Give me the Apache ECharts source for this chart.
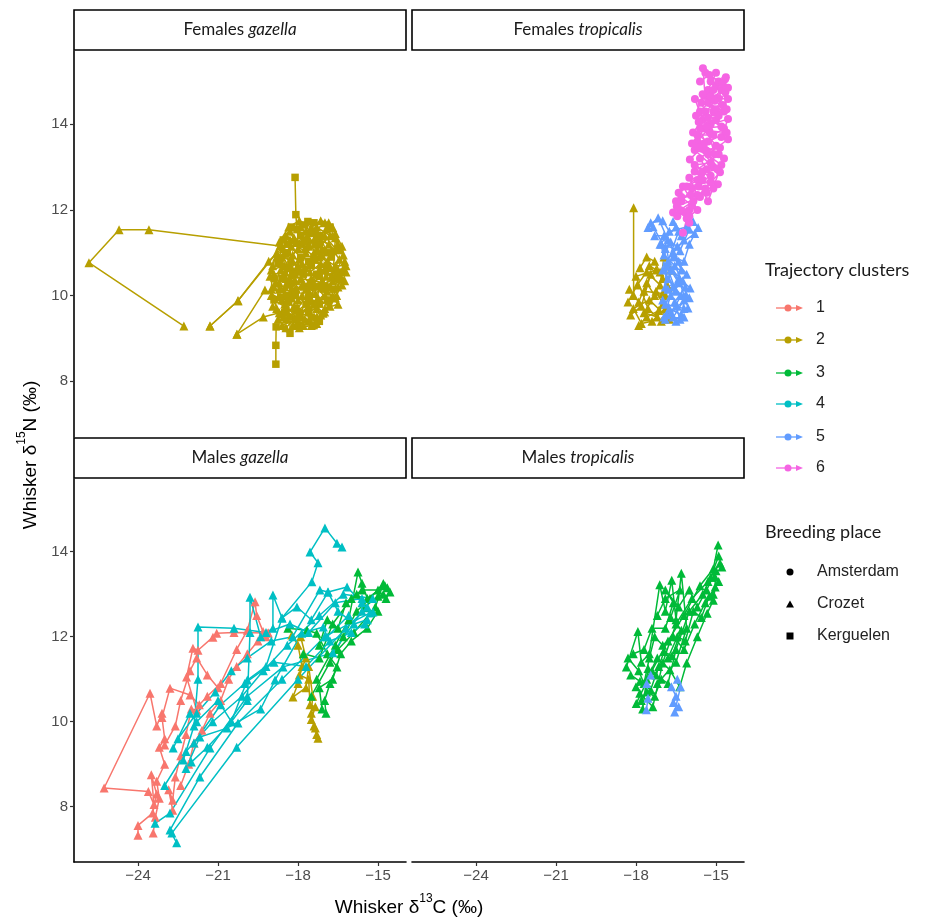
<!DOCTYPE html>
<html><head><meta charset="utf-8">
<script src="https://cdn.jsdelivr.net/npm/echarts@6/dist/echarts.min.js"></script>
<style>html,body{margin:0;padding:0;background:#fff}#c{width:936px;height:918px}</style>
</head><body><div id="c"></div>
<script>
// ---- categories / ticks ----
const panelSex = ['Females', 'Females', 'Males', 'Males'];
const panelSpecies = ['gazella', 'tropicalis', 'gazella', 'tropicalis'];
const clusterNames = ['1', '2', '3', '4', '5', '6'];
const placeNames = ['Amsterdam', 'Crozet', 'Kerguelen'];
const xTicks = [-24, -21, -18, -15];
const yTicks = [8, 10, 12, 14];

// ---- Females gazella (cluster 2) ----
const fgK1 = [[-18.11,12.76],[-18.08,11.89],[-18.04,11.54],[-17.63,11.73],[-17.9,11.2],[-17.4,10.9],[-17.8,10.5],[-18.2,10.1],[-17.7,9.8],[-18.3,9.5],[-18.3,9.12],[-18.82,9.27],[-18.83,8.84],[-18.83,8.40]];
const fgK2 = [[-17.2,11.4],[-16.9,11.0],[-17.5,10.7],[-16.6,10.4],[-17.3,10.2],[-16.9,9.9],[-17.6,9.6],[-17.2,9.4],[-18.0,9.3],[-18.5,9.6],[-18.1,10.0],[-18.6,10.4],[-17.9,10.9],[-18.4,11.2]];
const fgK3 = [[-18.9,10.4],[-18.4,10.0],[-17.8,10.2],[-17.3,10.5],[-16.9,10.7],[-17.6,10.8],[-17.2,11.2],[-17.9,11.4],[-18.4,11.0],[-18.1,9.7],[-17.4,9.3],[-18.9,9.9]];
const fgK4 = [[-18.6,9.55],[-18.35,9.85],[-17.95,9.6],[-17.5,9.5],[-17.45,10.2],[-17.05,10.15],[-17.2,10.45],[-16.75,10.9],[-17.05,11.05],[-17.5,11.45],[-17.75,11.65],[-18.25,11.6],[-18.55,11.3],[-18.75,10.75],[-18.35,10.65]];
const fgK5 = [[-16.45,11.05],[-16.8,11.6],[-17.4,11.7],[-17.65,11.25],[-17.95,10.55],[-18.3,10.25],[-18.65,9.95],[-18.45,9.65],[-18.05,9.45],[-17.6,9.95],[-17.2,9.8],[-16.85,9.85],[-16.65,10.15],[-16.4,10.55]];
const fgC1 = [[-17.6,10.3],[-18.2,10.8],[-18.68,11.16],[-23.59,11.54],[-24.71,11.54],[-25.84,10.77],[-22.28,9.29]];
const fgC2 = [[-21.3,9.29],[-20.25,9.88],[-19.1,10.8],[-18.3,11.3],[-17.7,11.0],[-17.0,11.4],[-16.6,11.1],[-17.2,10.6],[-16.3,10.6],[-16.8,10.2],[-17.5,10.4]];
const fgC3 = [[-20.29,9.10],[-19.24,10.13],[-18.6,9.9],[-18.9,10.5],[-18.2,10.6],[-18.5,11.0],[-17.8,11.3],[-16.99,11.70],[-16.7,11.59],[-16.5,11.2],[-16.9,10.8],[-16.4,10.4],[-16.7,9.95],[-17.06,9.59],[-17.5,9.9],[-17.9,9.5],[-18.6,9.3]];
const fgC4 = [[-21.3,9.29],[-20.25,9.88],[-18.8,11.0],[-18.0,10.7],[-18.4,10.3],[-17.6,10.1],[-18.0,9.7],[-17.3,9.5],[-17.8,9.3],[-18.5,9.8],[-18.9,10.2]];
const fgC5 = [[-20.29,9.10],[-19.3,9.5],[-18.7,9.6],[-19.0,10.0],[-18.4,9.9],[-18.7,10.3],[-19.0,10.6],[-18.5,10.7],[-18.0,11.1],[-18.3,11.5],[-17.9,11.6],[-17.4,11.2],[-17.2,10.9],[-16.6,10.7],[-16.2,10.7],[-16.5,10.2],[-17.0,10.0],[-17.3,9.7]];
const fgC6 = [[-17.7,11.5],[-17.3,11.6],[-16.8,11.4],[-17.4,11.0],[-17.9,10.4],[-17.1,10.3],[-17.4,9.8],[-16.9,10.1],[-16.5,9.8],[-17.0,9.7],[-17.6,9.4],[-18.2,9.3],[-18.0,9.9],[-18.5,10.2],[-18.1,10.5],[-18.6,10.9]];
const fgC7 = [[-18.8,10.9],[-18.3,10.4],[-17.95,10.85],[-17.55,10.55],[-17.15,10.75],[-16.75,10.45],[-16.45,10.85],[-16.85,11.2],[-17.35,11.35],[-17.75,11.1],[-18.15,11.35],[-18.55,11.1]];
const fgC8 = [[-18.95,9.75],[-18.55,9.5],[-18.15,9.75],[-17.75,9.45],[-17.3,9.35],[-17.0,9.62],[-16.6,9.95],[-16.9,10.25],[-17.35,10.05],[-17.8,10.3],[-18.25,9.95],[-18.7,10.15]];
const fgC9 = [[-16.3,10.95],[-16.55,10.55],[-16.35,10.25],[-16.7,10.35],[-16.6,11.35],[-16.95,11.55],[-17.25,11.05],[-17.65,11.4],[-18.05,11.25],[-18.45,11.4],[-18.65,10.6],[-18.85,10.3],[-19.05,10.45]];
const fgC10 = [[-18.75,9.45],[-18.45,9.25],[-18.0,9.55],[-17.6,9.75],[-17.25,9.95],[-17.7,10.15],[-18.1,10.35],[-18.5,10.55],[-18.2,10.95],[-17.75,10.65],[-17.35,10.85],[-16.95,10.45],[-16.55,10.6],[-16.25,10.35]];
const fgC11 = [[-16.6,11.45],[-16.35,11.15],[-16.25,10.8],[-16.45,10.45],[-16.2,10.55],[-16.55,10.0],[-16.8,9.75],[-17.15,9.55],[-17.5,9.3],[-17.95,9.25],[-18.45,9.45],[-18.8,9.7],[-19.0,10.15],[-18.95,10.7],[-18.7,11.25],[-18.35,11.6],[-17.95,11.75],[-17.5,11.6],[-17.15,11.75],[-16.85,11.7]];
const fgC12 = [[-17.85,10.0],[-17.45,10.35],[-17.0,10.6],[-16.7,11.05],[-17.3,11.5],[-17.85,10.75],[-18.25,10.5],[-18.6,10.75],[-18.25,11.15],[-17.6,11.15],[-17.1,10.95],[-16.8,10.65],[-17.05,10.3],[-17.55,10.25],[-18.05,10.15],[-18.45,10.4]];

// ---- Females tropicalis ----
const ftG1 = [[-18.09,12.05],[-18.09,10.0],[-18.25,10.15],[-17.9,9.85],[-17.6,10.3],[-17.3,10.0],[-17.7,9.6],[-17.2,9.5],[-17.0,9.8],[-16.8,10.2],[-17.1,10.55],[-17.5,10.7]];
const ftG2 = [[-17.85,10.65],[-17.6,10.9],[-17.3,10.8],[-17.0,10.4],[-17.25,10.1],[-16.9,9.7],[-17.4,9.4],[-17.8,9.35],[-18.1,9.7],[-17.5,9.9],[-16.75,9.45]];
const ftG3 = [[-18.3,9.85],[-17.95,10.25],[-17.6,10.55],[-17.1,10.25],[-16.95,10.9],[-16.7,10.6],[-16.9,10.0],[-17.15,9.65],[-17.6,9.5],[-17.9,9.3]];
const ftG4 = [[-18.2,9.55],[-17.8,9.75],[-17.45,10.5],[-17.7,10.1],[-17.0,10.05],[-16.8,9.6],[-17.05,9.4],[-17.55,9.7],[-18.0,10.45],[-17.25,10.6]];
const ftB1 = [[-17.55,11.59],[-17.17,11.82],[-16.8,11.3],[-16.4,10.8],[-16.8,10.4],[-16.3,10.0],[-16.7,9.6],[-16.5,9.4]];
const ftB2 = [[-17.36,11.61],[-16.9,11.1],[-17.0,10.6],[-16.6,10.2],[-16.9,9.8],[-16.2,9.7],[-16.05,9.71],[-16.4,10.4],[-15.97,10.18]];
const ftB3 = [[-16.61,11.73],[-16.3,11.4],[-15.86,11.73],[-15.67,11.59],[-16.0,11.2],[-16.2,10.8],[-16.6,10.9],[-16.1,10.5],[-16.7,10.0],[-16.95,9.5]];
const ftB4 = [[-17.1,11.2],[-16.5,11.6],[-16.2,11.3],[-16.6,11.0],[-16.3,10.6],[-16.85,10.7],[-16.5,10.1],[-16.2,9.9],[-16.6,9.5],[-17.0,9.9],[-16.8,10.8],[-16.4,11.5]];
const ftB5 = [[-17.3,11.4],[-16.95,11.4],[-16.7,10.6],[-16.4,10.3],[-16.9,10.2],[-16.75,9.7],[-16.3,9.55],[-16.15,10.0]];
const ftB6 = [[-17.45,11.7],[-17.0,11.75],[-16.75,11.5],[-16.1,11.6],[-15.8,11.45],[-16.45,11.15],[-16.7,11.25],[-16.95,10.95],[-16.55,10.7],[-16.15,10.2],[-16.55,9.85],[-16.35,9.45],[-16.85,9.55]];
const ftB7 = [[-16.0,11.55],[-16.35,11.05],[-17.05,11.2],[-16.8,10.15],[-16.25,10.35],[-16.65,10.6],[-16.0,9.95],[-16.45,9.75],[-16.9,9.45],[-16.2,9.5]];
const ftP1 = [[-15.49,15.31],[-15.41,14.66],[-15.1,14.3],[-15.5,13.9],[-15.0,13.5],[-15.6,13.2],[-15.2,12.8],[-15.9,12.5],[-16.3,12.2],[-16.61,11.94]];
const ftP2 = [[-14.66,15.05],[-14.9,14.6],[-14.55,14.59],[-15.2,14.0],[-14.55,14.12],[-14.8,13.7],[-14.55,13.65],[-15.3,13.3],[-14.85,12.88],[-15.4,12.5],[-16.0,12.0],[-16.24,11.47]];
const ftP3 = [[-14.63,15.1],[-15.0,14.9],[-15.3,14.5],[-14.7,14.3],[-15.79,14.59],[-15.5,14.1],[-15.86,13.81],[-15.3,13.6],[-15.98,13.18],[-15.5,12.9],[-14.93,12.6],[-15.6,12.3],[-16.47,12.08],[-16.0,11.7]];
const ftP4 = [[-15.2,15.0],[-14.8,14.8],[-15.6,14.3],[-15.0,14.1],[-15.7,13.6],[-14.9,13.3],[-15.8,12.9],[-15.1,12.5],[-16.24,12.55],[-15.7,12.0],[-16.1,11.8]];
const ftP5 = [[-15.0,15.2],[-15.3,14.8],[-14.75,14.45],[-15.4,14.3],[-14.8,13.95],[-15.6,13.9],[-15.1,13.0],[-15.8,13.4],[-14.7,13.2],[-15.3,12.2],[-15.7,12.7],[-16.4,12.4]];
const ftP6 = [[-15.4,15.2],[-14.9,15.0],[-15.2,14.65],[-14.65,14.75],[-15.0,14.35],[-15.55,14.5],[-15.3,14.15],[-14.7,13.9],[-15.1,13.75],[-15.7,13.75],[-15.4,13.4],[-14.85,13.45],[-15.2,13.1],[-15.8,13.05],[-15.5,12.7],[-16.0,12.75],[-15.7,12.35],[-16.3,12.3],[-15.9,12.1],[-16.45,11.85]];
const ftP7 = [[-15.6,15.0],[-15.25,15.15],[-14.75,14.95],[-14.6,14.35],[-15.05,14.55],[-15.65,14.05],[-15.25,13.85],[-14.6,13.8],[-15.45,13.55],[-15.9,13.55],[-14.8,13.05],[-15.35,12.95],[-15.65,12.55],[-15.35,12.4],[-15.95,12.35],[-16.5,12.2],[-16.2,11.95]];
const ftP8 = [[-14.55,14.85],[-15.1,14.8],[-15.5,14.7],[-15.75,14.2],[-14.9,14.2],[-15.35,13.95],[-15.05,13.3],[-15.65,13.45],[-14.95,12.95],[-15.55,12.85],[-16.1,12.55],[-15.2,12.65],[-15.85,12.2],[-16.35,12.0],[-16.0,11.85]];

// ---- Males gazella ----
const mgR1 = [[-23.1,10.2],[-23.3,9.9],[-23.55,10.67],[-25.27,8.44],[-23.61,8.36],[-23.4,8.05],[-23.5,8.75],[-23.3,8.3],[-23.45,7.85],[-24.0,7.56],[-24.0,7.33]];
const mgR2 = [[-23.43,7.38],[-23.35,7.75],[-23.2,8.2],[-23.3,8.6],[-23.0,9.0],[-23.2,9.4],[-23.0,9.6],[-23.1,10.1],[-22.8,10.79],[-22.05,10.63],[-21.7,10.4],[-21.4,10.6],[-20.9,10.9],[-20.3,11.7],[-19.9,12.15],[-19.61,12.82],[-19.55,12.5],[-19.31,12.12],[-19.12,12.09]];
const mgR3 = [[-22.7,7.92],[-22.85,8.4],[-22.7,8.15],[-22.6,8.7],[-22.4,9.2],[-22.2,9.7],[-22.0,10.3],[-21.8,10.27],[-22.18,11.05],[-21.94,11.73],[-21.75,11.68],[-21.19,11.99],[-21.05,12.08],[-20.4,12.1],[-19.12,12.09]];
const mgR4 = [[-22.4,8.5],[-22.1,9.0],[-21.9,9.5],[-21.6,9.8],[-21.3,10.2],[-20.9,10.5],[-20.6,11.0],[-20.3,11.3],[-19.9,11.6],[-19.5,11.9],[-19.2,12.0]];
const mgR5 = [[-23.0,9.45],[-22.6,9.9],[-22.4,10.5],[-22.05,11.2],[-21.8,11.5],[-21.4,11.1],[-21.0,10.8]];
const mgO1 = [[-18.23,12.04],[-18.0,11.8],[-17.85,11.3],[-18.0,10.9],[-18.19,10.58],[-17.7,10.8],[-17.6,11.3],[-17.45,10.6],[-17.5,10.2],[-17.4,9.9],[-17.3,9.7],[-17.25,9.61]];
const mgO2 = [[-17.9,12.0],[-17.7,11.5],[-17.95,11.1],[-17.6,11.0],[-17.55,10.4],[-17.35,10.35],[-17.5,10.05],[-17.35,9.85]];
const mgG1 = [[-18.38,12.2],[-17.66,12.15],[-17.3,12.08],[-16.9,11.6],[-16.54,11.29],[-16.8,10.9],[-17.0,10.5],[-16.95,10.2]];
const mgG2 = [[-17.3,11.0],[-16.6,11.8],[-16.1,12.4],[-15.75,13.52],[-15.6,13.26],[-15.4,12.9],[-14.74,13.2],[-14.55,13.05],[-14.7,12.9]];
const mgG3 = [[-17.5,10.6],[-16.8,11.4],[-16.3,12.0],[-15.8,12.6],[-15.3,12.9],[-14.8,13.25],[-15.1,12.7],[-15.9,12.1],[-16.5,11.7]];
const mgG4 = [[-17.8,11.6],[-17.2,11.5],[-16.7,12.3],[-16.0,12.9],[-15.6,13.1],[-15.0,13.1],[-14.65,13.15]];
const mgG5 = [[-17.2,11.8],[-16.9,12.4],[-16.5,12.2],[-16.2,12.8],[-15.8,13.0],[-15.5,12.7],[-15.0,12.95],[-14.8,13.0]];
const mgG6 = [[-17.1,10.3],[-17.2,10.8],[-16.7,11.0],[-16.4,11.6],[-16.0,11.9],[-15.4,12.2],[-15.0,12.6]];
const mgC1 = [[-22.55,7.15],[-22.8,7.45],[-21.68,8.70],[-20.25,9.97],[-18.6,11.0],[-17.0,12.0],[-15.3,12.56]];
const mgC2 = [[-23.36,7.61],[-22.8,7.85],[-21.3,9.38],[-19.9,10.6],[-18.56,11.29],[-16.69,11.62],[-15.6,12.6],[-15.19,12.58]];
const mgC3 = [[-22.73,7.38],[-20.3,9.4],[-18.0,11.0],[-16.2,12.2],[-15.4,12.7]];
const mgC4 = [[-22.2,8.9],[-21.68,9.64],[-20.66,9.85],[-19.4,10.3],[-18.86,10.98],[-17.86,12.08],[-17.05,12.23],[-16.91,12.0],[-16.1,12.5]];
const mgC5 = [[-22.68,9.38],[-22.05,10.2],[-21.8,10.0],[-21.0,10.5],[-20.5,10.0],[-19.9,10.98],[-19.2,11.3],[-18.6,12.44],[-17.48,13.29],[-17.25,13.74],[-17.55,13.99],[-16.99,14.56],[-16.54,14.2],[-16.35,14.11]];
const mgC6 = [[-22.3,9.1],[-21.9,9.9],[-21.75,11.0],[-21.75,12.23],[-20.4,12.2],[-19.2,12.1],[-18.3,12.3],[-17.6,12.1],[-16.6,12.8],[-15.6,12.9]];
const mgC7 = [[-22.0,9.05],[-21.4,9.4],[-20.5,10.0],[-19.9,10.5],[-19.8,12.1],[-19.8,12.93],[-19.4,12.0],[-18.94,12.2],[-18.94,12.98],[-18.6,12.44],[-18.04,12.7],[-17.5,12.4],[-16.87,13.05],[-16.16,13.17],[-15.6,12.8]];
const mgC8 = [[-22.5,9.6],[-21.8,10.2],[-21.1,10.7],[-20.5,11.2],[-19.9,11.5],[-19.0,11.9],[-18.2,12.0],[-17.18,13.1],[-16.88,13.05],[-16.5,12.6],[-15.9,12.3],[-15.4,12.4]];
const mgC9 = [[-21.9,9.5],[-20.9,10.4],[-20.0,10.9],[-18.9,11.4],[-17.7,11.3],[-16.8,11.9],[-16.0,12.1],[-15.5,12.3]];
const mgC10 = [[-23.0,8.5],[-22.2,9.3],[-21.2,10.0],[-20.1,10.6],[-19.3,11.2],[-18.4,11.8],[-17.2,12.5],[-16.3,13.0],[-15.2,12.9]];

// ---- Males tropicalis ----
const mtG1 = [[-17.99,10.43],[-17.4,11.2],[-16.8,11.9],[-16.2,12.5],[-15.6,13.2],[-15.1,13.6],[-14.92,14.16]];
const mtG2 = [[-17.86,10.67],[-17.37,10.35],[-17.0,11.38],[-16.5,12.3],[-15.9,12.9],[-15.3,13.3],[-14.85,13.73],[-14.78,13.64]];
const mtG3 = [[-18.36,11.29],[-17.93,12.12],[-17.8,11.4],[-17.5,11.6],[-17.11,13.22],[-16.9,12.6],[-16.66,13.33],[-16.5,12.4],[-16.3,13.49],[-16.1,12.2],[-16.5,11.4],[-17.2,10.9]];
const mtG4 = [[-18.0,10.82],[-17.6,11.0],[-17.2,11.5],[-16.73,11.22],[-16.36,10.82],[-16.1,11.38],[-15.7,12.0],[-15.33,12.55],[-15.1,12.86],[-15.03,13.17],[-15.03,13.4]];
const mtG5 = [[-18.3,11.5],[-17.9,11.2],[-17.7,10.9],[-17.5,11.5],[-17.3,12.0],[-17.0,11.8],[-16.6,12.0],[-16.2,11.7],[-15.8,12.3],[-15.4,12.8],[-15.1,13.0]];
const mtG6 = [[-17.8,10.5],[-17.6,10.7],[-17.3,10.6],[-17.05,11.0],[-16.8,10.9],[-16.5,11.7],[-16.0,12.6],[-15.5,13.0],[-15.2,13.4],[-14.9,13.9]];
const mtG7 = [[-18.1,11.6],[-17.7,11.7],[-17.4,12.2],[-16.9,12.2],[-16.6,12.8],[-16.9,13.1],[-16.4,12.7],[-16.0,13.1],[-15.7,12.7],[-15.35,13.1],[-15.0,13.55]];
const mtG8 = [[-18.2,11.1],[-17.85,10.95],[-17.45,10.75],[-17.15,11.3],[-16.8,11.5],[-16.45,12.0],[-16.15,11.9],[-15.85,12.6],[-15.55,12.45],[-15.25,12.95],[-14.9,13.3]];
const mtG9 = [[-17.75,10.3],[-17.55,11.25],[-17.25,11.1],[-16.95,11.65],[-16.65,11.55],[-16.3,12.15],[-16.7,12.45],[-16.35,13.1],[-16.9,12.9],[-17.2,12.5]];
const mtB1 = [[-17.61,10.28],[-17.55,10.55],[-17.6,10.9],[-17.45,11.1]];
const mtB2 = [[-16.67,10.82],[-16.5,10.6],[-16.6,10.45],[-16.4,10.35],[-16.55,10.23],[-16.33,10.82],[-16.45,11.0]];

// panel index, cluster, breeding place, values
const tracks = [
  [0,2,'Kerguelen',fgK1],[0,2,'Kerguelen',fgK2],[0,2,'Kerguelen',fgK3],[0,2,'Kerguelen',fgK4],[0,2,'Kerguelen',fgK5],
  [0,2,'Crozet',fgC1],[0,2,'Crozet',fgC2],[0,2,'Crozet',fgC3],[0,2,'Crozet',fgC4],[0,2,'Crozet',fgC5],[0,2,'Crozet',fgC6],
  [0,2,'Crozet',fgC7],[0,2,'Crozet',fgC8],[0,2,'Crozet',fgC9],[0,2,'Crozet',fgC10],[0,2,'Crozet',fgC11],[0,2,'Crozet',fgC12],
  [1,2,'Crozet',ftG1],[1,2,'Crozet',ftG2],[1,2,'Crozet',ftG3],[1,2,'Crozet',ftG4],
  [1,5,'Crozet',ftB1],[1,5,'Crozet',ftB2],[1,5,'Crozet',ftB3],[1,5,'Crozet',ftB4],[1,5,'Crozet',ftB5],[1,5,'Crozet',ftB6],[1,5,'Crozet',ftB7],
  [1,6,'Amsterdam',ftP1],[1,6,'Amsterdam',ftP2],[1,6,'Amsterdam',ftP3],[1,6,'Amsterdam',ftP4],
  [1,6,'Amsterdam',ftP5],[1,6,'Amsterdam',ftP6],[1,6,'Amsterdam',ftP7],[1,6,'Amsterdam',ftP8],
  [2,1,'Crozet',mgR1],[2,1,'Crozet',mgR2],[2,1,'Crozet',mgR3],[2,1,'Crozet',mgR4],[2,1,'Crozet',mgR5],
  [2,2,'Crozet',mgO1],[2,2,'Crozet',mgO2],
  [2,3,'Crozet',mgG1],[2,3,'Crozet',mgG2],[2,3,'Crozet',mgG3],[2,3,'Crozet',mgG4],[2,3,'Crozet',mgG5],[2,3,'Crozet',mgG6],
  [2,4,'Crozet',mgC1],[2,4,'Crozet',mgC2],[2,4,'Crozet',mgC3],[2,4,'Crozet',mgC4],[2,4,'Crozet',mgC5],
  [2,4,'Crozet',mgC6],[2,4,'Crozet',mgC7],[2,4,'Crozet',mgC8],[2,4,'Crozet',mgC9],[2,4,'Crozet',mgC10],
  [3,3,'Crozet',mtG1],[3,3,'Crozet',mtG2],[3,3,'Crozet',mtG3],[3,3,'Crozet',mtG4],[3,3,'Crozet',mtG5],
  [3,3,'Crozet',mtG6],[3,3,'Crozet',mtG7],[3,3,'Crozet',mtG8],[3,3,'Crozet',mtG9],
  [3,5,'Crozet',mtB1],[3,5,'Crozet',mtB2]
];

// ---- styles ----
const colors = ['#F8766D','#B79F00','#00BA38','#00BFC4','#619CFF','#F564E3'];
const symbolOf = {Amsterdam:'circle', Crozet:'triangle', Kerguelen:'rect'};
const sizeOf = {Amsterdam:8, Crozet:9, Kerguelen:7.5};
const X_MIN = -26.4, X_MAX = -13.95, Y_MIN = 6.70, Y_MAX = 15.71;
const gridBoxes = [
  {left:74, top:51, width:332, height:386},
  {left:412, top:51, width:332, height:386},
  {left:74, top:479, width:332, height:383},
  {left:412, top:479, width:332, height:383}
];
const fmt = v => (v < 0 ? '\u2212' : '') + Math.abs(v);

const chart = echarts.init(document.getElementById('c'), null, {renderer:'canvas'});

const xAxis = gridBoxes.map((g, i) => {
  const bottom = i >= 2;
  return {
    type:'value', gridIndex:i, min:X_MIN, max:X_MAX,
    splitLine:{show:false},
    axisLine:{show:bottom, onZero:false, lineStyle:{color:'#000', width:1.6}},
    axisTick:{show:bottom, customValues:xTicks, length:4, lineStyle:{color:'#333', width:1.2}},
    axisLabel:{show:bottom, customValues:xTicks, formatter:fmt, color:'#4D4D4D', fontSize:15, fontFamily:'Liberation Sans', margin:6}
  };
});
const yAxis = gridBoxes.map((g, i) => {
  const left = i % 2 === 0;
  return {
    type:'value', gridIndex:i, min:Y_MIN, max:Y_MAX,
    splitLine:{show:false},
    axisLine:{show:left, onZero:false, lineStyle:{color:'#000', width:1.6}},
    axisTick:{show:left, customValues:yTicks, length:4, lineStyle:{color:'#333', width:1.2}},
    axisLabel:{show:left, customValues:yTicks, color:'#4D4D4D', fontSize:15, fontFamily:'Liberation Sans', margin:6}
  };
});

const series = tracks.slice().sort((a, b) => a[1] - b[1]).map(t => ({
  type:'line', name:clusterNames[t[1]-1], xAxisIndex:t[0], yAxisIndex:t[0],
  data:t[3], symbol:symbolOf[t[2]], symbolSize:sizeOf[t[2]], showAllSymbol:true,
  lineStyle:{color:colors[t[1]-1], width:1.5}, itemStyle:{color:colors[t[1]-1]},
  silent:true, animation:false, z:2
}));

// ---- graphics: strips, axis titles, legends ----
const graphic = [];
gridBoxes.forEach((g, i) => {
  const top = i < 2 ? 10 : 438;
  graphic.push({type:'rect', shape:{x:g.left, y:top, width:g.width, height:40},
    style:{fill:'#fff', stroke:'#000', lineWidth:1.6}, z:10});
  graphic.push({type:'text', x:g.left + g.width/2, y:top + 20, z:11,
    style:{text:'{n|' + panelSex[i] + ' }{i|' + panelSpecies[i] + '}',
      align:'center', verticalAlign:'middle', textAlign:'center', textVerticalAlign:'middle',
      rich:{n:{fontFamily:'Lato', fontSize:17, fill:'#1A1A1A', color:'#1A1A1A'},
            i:{fontFamily:'Lato', fontSize:17, fontStyle:'italic', fill:'#1A1A1A', color:'#1A1A1A'}}}});
});
const titleRich = {
  a:{fontFamily:'Liberation Sans', fontSize:19, color:'#000', fill:'#000', lineHeight:24, verticalAlign:'bottom'},
  s:{fontFamily:'Liberation Sans', fontSize:12, color:'#000', fill:'#000', lineHeight:14, verticalAlign:'top'}
};
graphic.push({type:'text', x:409, y:905, z:11,
  style:{text:'{a|Whisker δ}{s|13}{a|C (‰)}', rich:titleRich, align:'center', verticalAlign:'middle', textAlign:'center', textVerticalAlign:'middle'}});
graphic.push({type:'text', x:28, y:455, rotation:Math.PI/2, z:11,
  style:{text:'{a|Whisker δ}{s|15}{a|N (‰)}', rich:titleRich, align:'center', verticalAlign:'middle', textAlign:'center', textVerticalAlign:'middle'}});

// legend: Trajectory clusters
graphic.push({type:'text', x:765, y:270, z:11,
  style:{text:'Trajectory clusters', font:'18px Lato', fill:'#1A1A1A', align:'left', verticalAlign:'middle', textAlign:'left', textVerticalAlign:'middle'}});
const clusterRowY = [308, 340, 373, 404, 437, 468];
clusterNames.forEach((n, k) => {
  const y = clusterRowY[k], c = colors[k];
  graphic.push({type:'line', shape:{x1:776, y1:y, x2:800, y2:y}, style:{stroke:c, lineWidth:1.3}, z:11});
  graphic.push({type:'circle', shape:{cx:788, cy:y, r:3.5}, style:{fill:c}, z:11});
  graphic.push({type:'polygon', shape:{points:[[796,y-3],[803,y],[796,y+3]]}, style:{fill:c}, z:11});
  graphic.push({type:'text', x:816, y:y, z:11,
    style:{text:n, font:'16px "Liberation Sans"', fill:'#222', align:'left', verticalAlign:'middle', textAlign:'left', textVerticalAlign:'middle'}});
});
// legend: Breeding place
graphic.push({type:'text', x:765, y:532, z:11,
  style:{text:'Breeding place', font:'18px Lato', fill:'#1A1A1A', align:'left', verticalAlign:'middle', textAlign:'left', textVerticalAlign:'middle'}});
const placeRowY = [572, 604, 636];
placeNames.forEach((n, k) => {
  const y = placeRowY[k];
  if (k === 0) graphic.push({type:'circle', shape:{cx:790, cy:y, r:3.5}, style:{fill:'#000'}, z:11});
  if (k === 1) graphic.push({type:'polygon', shape:{points:[[786,y+3.5],[790,y-3.5],[794,y+3.5]]}, style:{fill:'#000'}, z:11});
  if (k === 2) graphic.push({type:'rect', shape:{x:786.5, y:y-3.5, width:7, height:7}, style:{fill:'#000'}, z:11});
  graphic.push({type:'text', x:817, y:y, z:11,
    style:{text:n, font:'16px "Liberation Sans"', fill:'#222', align:'left', verticalAlign:'middle', textAlign:'left', textVerticalAlign:'middle'}});
});

chart.setOption({
  animation:false,
  backgroundColor:'#fff',
  grid:gridBoxes.map(g => Object.assign({containLabel:false}, g)),
  xAxis, yAxis, series, graphic
});
</script></body></html>
